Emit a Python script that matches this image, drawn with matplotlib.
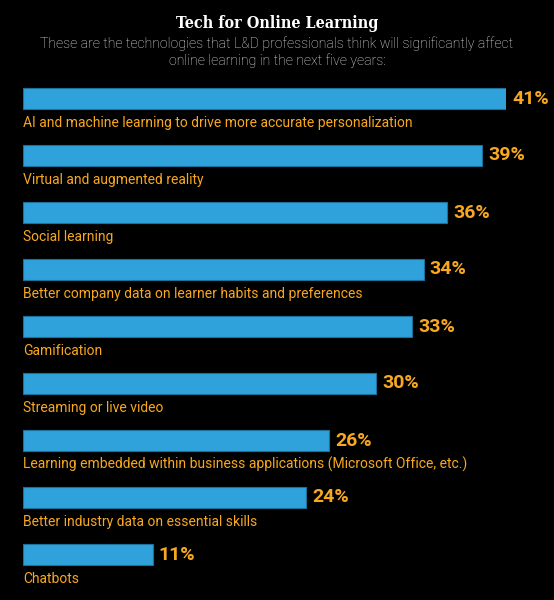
import matplotlib.pyplot as plt

categories = [
    "AI and machine learning to drive more accurate personalization",
    "Virtual and augmented reality",
    "Social learning",
    "Better company data on learner habits and preferences",
    "Gamification",
    "Streaming or live video",
    "Learning embedded within business applications (Microsoft Office, etc.)",
    "Better industry data on essential skills",
    "Chatbots",
]
values = [41, 39, 36, 34, 33, 30, 26, 24, 11]

title = "Tech for Online Learning"
subtitle_lines = [
    "These are the technologies that L&D professionals think will significantly affect",
    "online learning in the next five years:",
]

bar_color = "#2fa1db"
text_color = "#f8a81f"

W, H = 554, 600
fig = plt.figure(figsize=(W / 100, H / 100), dpi=100, facecolor="black")

# axes placed so that 0% sits at x=23px and 41% at x=506px
ax = fig.add_axes([23 / W, 17 / H, 483 / W, 513 / H])
ax.set_facecolor("black")
ax.set_xlim(0, 41)
ax.set_ylim(len(values) - 0.5, -0.5)
ax.axis("off")

ypos = list(range(len(values)))
ax.barh(ypos, values, height=0.37, color=bar_color, edgecolor="#1d6f9c", linewidth=0.8)

for y, v, lab in zip(ypos, values, categories):
    ax.annotate(f"{v}%", (v, y), xytext=(4.5, 0), textcoords="offset points",
                ha="left", va="center", color=text_color, fontsize=14,
                fontweight="bold", family="Roboto", annotation_clip=False)
    ax.text(0, y + 0.5, lab, ha="left", va="baseline", color=text_color,
            fontsize=10.0, family="Roboto", clip_on=False)

fig.text(0.5, 1 - 28 / H, title, ha="center", va="baseline", color="white",
         fontsize=11.5, fontweight="bold", family="DejaVu Serif",
         fontstretch="condensed")
for i, line in enumerate(subtitle_lines):
    fig.text(0.5, 1 - (48 + 17 * i) / H, line, ha="center", va="baseline",
             color="#e6e6e6", fontsize=10.2, family="Roboto", fontweight="light")

fig.savefig("out.png", dpi=100, facecolor="black")
